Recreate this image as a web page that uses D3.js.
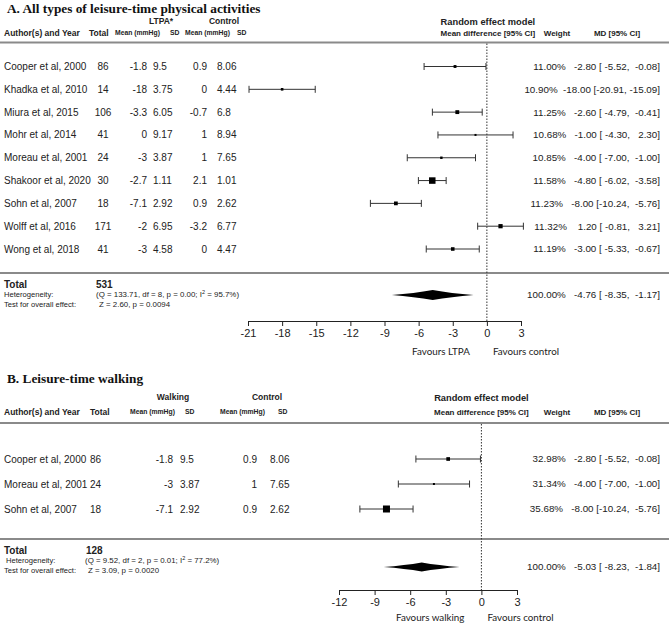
<!DOCTYPE html>
<html>
<head>
<meta charset="utf-8">
<script src="https://cdn.jsdelivr.net/npm/d3@7/dist/d3.min.js"></script>
<style>
  html, body { margin: 0; padding: 0; background: #fff; }
  svg { display: block; }
  text { font-family: "Liberation Sans", Arial, sans-serif; fill: #222; }
</style>
</head>
<body>
<svg id="chart" width="669" height="628"></svg>
<script>
// ---------------- DATA ----------------
// Panel A: all types of leisure-time physical activities
const studiesA = ["Cooper et al, 2000", "Khadka et al, 2010", "Miura et al, 2015", "Mohr et al, 2014",
  "Moreau et al, 2001", "Shakoor et al, 2020", "Sohn et al, 2007", "Wolff et al, 2016", "Wong et al, 2018"];
const totalA = [86, 14, 106, 41, 24, 30, 18, 171, 41];
const ltpaMeanA = [-1.8, -18, -3.3, 0, -3, -2.7, -7.1, -2, -3];
const ltpaSdA = [9.5, 3.75, 6.05, 9.17, 3.87, 1.11, 2.92, 6.95, 4.58];
const ctrlMeanA = [0.9, 0, -0.7, 1, 1, 2.1, 0.9, -3.2, 0];
const ctrlSdA = [8.06, 4.44, 6.8, 8.94, 7.65, 1.01, 2.62, 6.77, 4.47];
const weightA = [11.00, 10.90, 11.25, 10.68, 10.85, 11.58, 11.23, 11.32, 11.19];
const mdA = [-2.80, -18.00, -2.60, -1.00, -4.00, -4.80, -8.00, 1.20, -3.00];
const loA = [-5.52, -20.91, -4.79, -4.30, -7.00, -6.02, -10.24, -0.81, -5.33];
const hiA = [-0.08, -15.09, -0.41, 2.30, -1.00, -3.58, -5.76, 3.21, -0.67];
const pooledA = [-4.76, -8.35, -1.17];          // md, lower, upper
const sumTotalA = 531;
const hetA = ["133.71", "8", "0.00", "95.7"];    // Q, df, p, I2
const testA = ["2.60", "0.0094"];               // Z, p
const ticksA = [-21, -18, -15, -12, -9, -6, -3, 0, 3];

// Panel B: leisure-time walking
const studiesB = ["Cooper et al, 2000", "Moreau et al, 2001", "Sohn et al, 2007"];
const totalB = [86, 24, 18];
const walkMeanB = [-1.8, -3, -7.1];
const walkSdB = [9.5, 3.87, 2.92];
const ctrlMeanB = [0.9, 1, 0.9];
const ctrlSdB = [8.06, 7.65, 2.62];
const weightB = [32.98, 31.34, 35.68];
const mdB = [-2.80, -4.00, -8.00];
const loB = [-5.52, -7.00, -10.24];
const hiB = [-0.08, -1.00, -5.76];
const pooledB = [-5.03, -8.23, -1.84];
const sumTotalB = 128;
const hetB = ["9.52", "2", "0.01", "77.2"];
const testB = ["3.09", "0.0020"];
const ticksB = [-12, -9, -6, -3, 0, 3];

// ---------------- DRAW ----------------
const svg = d3.select("#chart");
const NB = "\u00A0";
const pad = (v, n) => v.toFixed(2).padStart(n, NB);
const mdText = (w, m, l, h) => w.toFixed(2) + "%" + NB + NB + pad(m, 6) + NB + "[" + pad(l, 6) + "," + NB + pad(h, 6) + "]";

function panel(cfg) {
  const g = svg.append("g");
  const x = d3.scaleLinear().domain(d3.extent(cfg.ticks)).range(cfg.xRange);
  const y = d3.scalePoint().domain(cfg.studies).range(cfg.yRange);
  const n = cfg.studies.length;
  const idx = d3.range(n);

  // title
  g.append("text").attr("x", 7).attr("y", cfg.titleY).attr("dy", "0.35em")
    .style("font-family", "'Liberation Serif', 'Times New Roman', serif")
    .style("font-weight", "bold").style("font-size", "13.3px").style("fill", "#111")
    .text(cfg.title);

  // group headers
  const hb = (t, xx, yy, size, anchor) => g.append("text").attr("x", xx).attr("y", yy).attr("dy", "0.35em")
    .attr("text-anchor", anchor || "start").style("font-weight", "bold").style("font-size", size + "px").text(t);
  hb(cfg.groupName, cfg.col.grp1, cfg.grpY, 8.5, "middle");
  hb("Control", cfg.col.grp2, cfg.grpY, 8.5, "middle");
  hb("Author(s) and Year", 4, cfg.hdrY, 8.5);
  hb("Total", cfg.col.totalH, cfg.hdrY, 8.5);
  hb("Mean (mmHg)", cfg.col.m1H, cfg.hdrY, 6.8);
  hb("SD", cfg.col.s1H, cfg.hdrY, 6.8);
  hb("Mean (mmHg)", cfg.col.m2H, cfg.hdrY, 6.8);
  hb("SD", cfg.col.s2H, cfg.hdrY, 6.8);
  hb("Random effect model", x(0) + cfg.remDx, cfg.grpY + cfg.remDy, 9.3, "middle");
  hb("Mean difference [95% CI]", x(0) + cfg.remDx, cfg.hdrY, 8, "middle");
  hb("Weight", 557, cfg.hdrY, 8, "middle");
  hb("MD [95% CI]", 617, cfg.hdrY, 8, "middle");

  // separator lines
  [cfg.hdrLineY, cfg.sepLineY].forEach(yy => g.append("line")
    .attr("x1", 0).attr("x2", 669).attr("y1", yy).attr("y2", yy)
    .attr("stroke", "#8a8a8a").attr("stroke-width", 2));

  // zero line
  g.append("line").attr("x1", x(0)).attr("x2", x(0))
    .attr("y1", cfg.hdrLineY + 1).attr("y2", cfg.axisY)
    .attr("stroke", "#333").attr("stroke-width", 1).attr("stroke-dasharray", "1.5,1.5");

  // table rows
  const rowText = (vals, xx, anchor, fmt) => g.append("g").selectAll("text").data(idx).join("text")
    .attr("x", xx).attr("y", i => y(cfg.studies[i])).attr("dy", "0.35em")
    .attr("text-anchor", anchor).style("font-size", "10px")
    .text(i => fmt ? fmt(vals[i]) : vals[i]);
  rowText(cfg.studies, 4, "start");
  rowText(cfg.total, cfg.col.total, cfg.col.totalAnchor);
  rowText(cfg.m1, cfg.col.m1, "end");
  rowText(cfg.s1, cfg.col.s1, "start");
  rowText(cfg.m2, cfg.col.m2, "end");
  rowText(cfg.s2, cfg.col.s2, "start");
  g.append("g").selectAll("text").data(idx).join("text")
    .attr("x", 660).attr("y", i => y(cfg.studies[i])).attr("dy", "0.35em")
    .attr("text-anchor", "end").style("font-size", "9.8px")
    .text(i => mdText(cfg.weight[i], cfg.md[i], cfg.lo[i], cfg.hi[i]));

  // CI lines with caps
  const ci = g.append("g").attr("stroke", "#333").attr("stroke-width", 1);
  idx.forEach(i => {
    const yy = y(cfg.studies[i]);
    ci.append("line").attr("x1", x(cfg.lo[i])).attr("x2", x(cfg.hi[i])).attr("y1", yy).attr("y2", yy);
    [cfg.lo[i], cfg.hi[i]].forEach(v => ci.append("line")
      .attr("x1", x(v)).attr("x2", x(v)).attr("y1", yy - 3.5).attr("y2", yy + 3.5));
  });
  // squares sized by precision
  const prec = idx.map(i => 1 / Math.pow(cfg.hi[i] - cfg.lo[i], 2));
  const sz = d3.scaleLog().domain(d3.extent(prec)).range(cfg.boxRange);
  g.append("g").selectAll("rect").data(idx).join("rect")
    .attr("x", i => x(cfg.md[i]) - sz(prec[i]) / 2)
    .attr("y", i => y(cfg.studies[i]) - sz(prec[i]) / 2)
    .attr("width", i => sz(prec[i])).attr("height", i => sz(prec[i]))
    .attr("fill", "#000");

  // totals
  g.append("text").attr("x", 4).attr("y", cfg.totY).attr("dy", "0.35em")
    .style("font-weight", "bold").style("font-size", "10px").text("Total");
  g.append("text").attr("x", cfg.col.sum).attr("y", cfg.totY).attr("dy", "0.35em")
    .style("font-weight", "bold").style("font-size", "10px").text(cfg.sumTotal);
  g.append("text").attr("x", cfg.hetLabelX).attr("y", cfg.totY + 10).attr("dy", "0.35em")
    .style("font-size", "7.6px").text("Heterogeneity:");
  g.append("text").attr("x", 4).attr("y", cfg.totY + 20).attr("dy", "0.35em")
    .style("font-size", "7.6px").text("Test for overall effect:");
  const ht = g.append("text").attr("x", cfg.col.het).attr("y", cfg.totY + 10).attr("dy", "0.35em")
    .style("font-size", "7.9px");
  ht.append("tspan").text(`(Q = ${cfg.het[0]}, df = ${cfg.het[1]}, p = ${cfg.het[2]}; I`);
  ht.append("tspan").attr("dy", "-3").style("font-size", "5.5px").text("2");
  ht.append("tspan").attr("dy", "3").text(` = ${cfg.het[3]}%)`);
  g.append("text").attr("x", cfg.col.het + 3).attr("y", cfg.totY + 20).attr("dy", "0.35em")
    .style("font-size", "7.9px").text(`Z = ${cfg.test[0]}, p = ${cfg.test[1]}`);

  // pooled diamond (slightly concave sides)
  const [pm, pl, ph] = cfg.pooled;
  const dy = cfg.diamondY, hh = cfg.diamondH;
  const xl = x(pl), xm = x(pm), xh = x(ph);
  const path = d3.path();
  path.moveTo(xl, dy);
  path.quadraticCurveTo(xl + (xm - xl) * 0.55, dy - hh * 0.35, xm, dy - hh);
  path.quadraticCurveTo(xm + (xh - xm) * 0.45, dy - hh * 0.35, xh, dy);
  path.quadraticCurveTo(xm + (xh - xm) * 0.45, dy + hh * 0.35, xm, dy + hh);
  path.quadraticCurveTo(xl + (xm - xl) * 0.55, dy + hh * 0.35, xl, dy);
  path.closePath();
  g.append("path").attr("d", path.toString()).attr("fill", "#000");
  g.append("text").attr("x", 660).attr("y", dy).attr("dy", "0.35em")
    .attr("text-anchor", "end").style("font-size", "9.8px")
    .text("100.00%" + NB + NB + pad(pm, 6) + NB + "[" + pad(pl, 6) + "," + NB + pad(ph, 6) + "]");

  // axis
  const ax = g.append("g").attr("transform", `translate(0,${cfg.axisY})`)
    .call(d3.axisBottom(x).tickValues(cfg.ticks).tickSize(5).tickSizeOuter(0).tickFormat(d => String(d)));
  ax.select(".domain").attr("stroke", "#222");
  ax.selectAll(".tick line").attr("stroke", "#222");
  ax.selectAll(".tick text").attr("y", 8).style("font-size", "11px")
    .style("font-family", "'Liberation Sans', Arial, sans-serif").attr("fill", "#222");

  // favours labels
  g.append("text").attr("x", x(0) - 17).attr("y", cfg.favY).attr("dy", "0.35em").attr("text-anchor", "end")
    .style("font-family", "Lato, 'Open Sans', sans-serif").style("font-size", "9.8px").text(cfg.favLeft);
  g.append("text").attr("x", x(0) + 6).attr("y", cfg.favY).attr("dy", "0.35em")
    .style("font-family", "Lato, 'Open Sans', sans-serif").style("font-size", "9.8px").text("Favours control");
}

panel({
  title: "A. All types of leisure-time physical activities", titleY: 8,
  groupName: "LTPA*", grpY: 21, hdrY: 33, remDx: 1, remDy: 1,
  hdrLineY: 42.5, sepLineY: 273,
  studies: studiesA, total: totalA, m1: ltpaMeanA, s1: ltpaSdA, m2: ctrlMeanA, s2: ctrlSdA,
  weight: weightA, md: mdA, lo: loA, hi: hiA, pooled: pooledA,
  sumTotal: sumTotalA, het: hetA, test: testA, ticks: ticksA,
  xRange: [248, 521], yRange: [66.5, 249],
  col: { grp1: 161, grp2: 224, totalH: 89, m1H: 115, s1H: 170, m2H: 185, s2H: 237,
         total: 103, totalAnchor: "middle", m1: 147, s1: 153, m2: 207, s2: 217, sum: 96, het: 96 },
  hetLabelX: 4,
  boxRange: [2, 6.5],
  totY: 284, diamondY: 295, diamondH: 5, axisY: 321, favY: 352,
  favLeft: "Favours LTPA"
});

panel({
  title: "B. Leisure-time walking", titleY: 378,
  groupName: "Walking", grpY: 397, hdrY: 412, remDx: 0, remDy: 1,
  hdrLineY: 423, sepLineY: 539,
  studies: studiesB, total: totalB, m1: walkMeanB, s1: walkSdB, m2: ctrlMeanB, s2: ctrlSdB,
  weight: weightB, md: mdB, lo: loB, hi: hiB, pooled: pooledB,
  sumTotal: sumTotalB, het: hetB, test: testB, ticks: ticksB,
  xRange: [339, 517], yRange: [459, 509],
  col: { grp1: 173, grp2: 267, totalH: 90, m1H: 130, s1H: 185, m2H: 220, s2H: 278,
         total: 90, totalAnchor: "start", m1: 173, s1: 180, m2: 257, s2: 270, sum: 86, het: 85 },
  hetLabelX: 6,
  boxRange: [2, 7],
  totY: 550, diamondY: 567, diamondH: 4.5, axisY: 590, favY: 618,
  favLeft: "Favours walking"
});
</script>
</body>
</html>
